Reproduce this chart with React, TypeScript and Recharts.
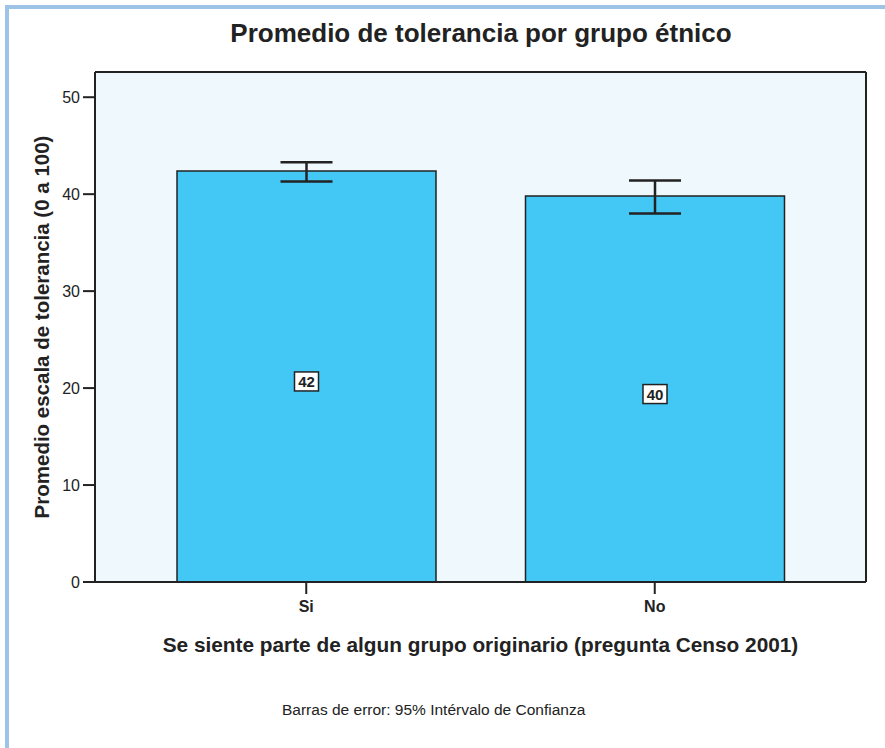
import { BarChart, Bar, XAxis, YAxis, CartesianGrid, ErrorBar, LabelList } from 'recharts'

const categories = ['Si', 'No']
const means = [42.4, 39.8]
const ciLow = [41.3, 38.0]
const ciHigh = [43.3, 41.4]
const barLabels = ['42', '40']
const yTicks = [0, 10, 20, 30, 40, 50]
const Y_MAX = 52.6

const data = categories.map((c, i) => ({
  grupo: c,
  media: means[i],
  ic: [means[i] - ciLow[i], ciHigh[i] - means[i]],
  etiqueta: barLabels[i],
}))

const FONT = '"Liberation Sans", Arial, Helvetica, sans-serif'
const INK = '#222'
const FRAME = { stroke: INK, strokeWidth: 2 }

function BoxLabel(props: any) {
  const { x, y, width, height, value } = props
  const cx = x + width / 2
  const cy = y + height / 2 + 5
  return (
    <g>
      <rect x={cx - 12} y={cy - 9.5} width={24} height={19} fill="#ffffff" stroke={INK} strokeWidth={1.5} />
      <text x={cx} y={cy + 5.5} textAnchor="middle" fontSize={15} fontWeight="bold" fill={INK} fontFamily={FONT}>
        {value}
      </text>
    </g>
  )
}

export default function App() {
  return (
    <div style={{ position: 'absolute', left: 0, top: 0, width: 885, height: 748, overflow: 'hidden', background: '#fff', fontFamily: FONT }}>
      {/* marco azul */}
      <div style={{ position: 'absolute', left: 5, top: 5, width: 920, height: 800, borderLeft: '4px solid #9dc3e6', borderTop: '4px solid #9dc3e6' }} />
      <div style={{ position: 'absolute', left: 0, width: 962, top: 18, textAlign: 'center', fontSize: 26, fontWeight: 'bold', color: INK }}>
        Promedio de tolerancia por grupo étnico
      </div>
      <div style={{ position: 'absolute', left: 282, top: 701, fontSize: 15.5, color: INK }}>
        Barras de error: 95% Intérvalo de Confianza
      </div>
      <div style={{ position: 'absolute', left: 0, top: 0 }}>
        <BarChart width={885} height={748} data={data} margin={{ top: 71, right: 18, bottom: 91, left: 35 }}>
          <CartesianGrid horizontal={false} vertical={false} fill="#eef8fd" />
          <XAxis
            dataKey="grupo"
            padding={{ left: 37, right: 37 }}
            axisLine={FRAME}
            tickLine={{ stroke: INK, strokeWidth: 2 }}
            tickSize={12}
            tickMargin={7}
            height={75}
            tick={{ fontSize: 16, fontWeight: 'bold', fill: INK, fontFamily: FONT }}
            label={{
              value: 'Se siente parte de algun grupo originario (pregunta Censo 2001)',
              position: 'insideBottom',
              offset: 5,
              style: { fontSize: 20.8, fontWeight: 'bold', fill: INK, fontFamily: FONT },
            }}
          />
          <XAxis xAxisId="top" orientation="top" dataKey="grupo" height={1} tick={false} tickLine={false} axisLine={FRAME} />
          <YAxis
            domain={[0, Y_MAX]}
            ticks={yTicks}
            width={60}
            axisLine={FRAME}
            tickLine={{ stroke: INK, strokeWidth: 2 }}
            tickSize={12}
            tickMargin={3}
            tick={{ fontSize: 16, fill: INK, fontFamily: FONT }}
            label={{
              value: 'Promedio escala de tolerancia (0 a 100)',
              angle: -90,
              position: 'insideLeft',
              offset: 7,
              style: { textAnchor: 'middle', fontSize: 20.5, fontWeight: 'bold', fill: INK, fontFamily: FONT },
            }}
          />
          <YAxis yAxisId="right" orientation="right" domain={[0, Y_MAX]} width={1} tick={false} tickLine={false} axisLine={FRAME} />
          <Bar dataKey="media" fill="#43c8f5" stroke={INK} strokeWidth={1.5} barSize={259} isAnimationActive={false}>
            <ErrorBar dataKey="ic" width={26} stroke={INK} strokeWidth={2.5} />
            <LabelList dataKey="etiqueta" content={BoxLabel} />
          </Bar>
        </BarChart>
      </div>
    </div>
  )
}
